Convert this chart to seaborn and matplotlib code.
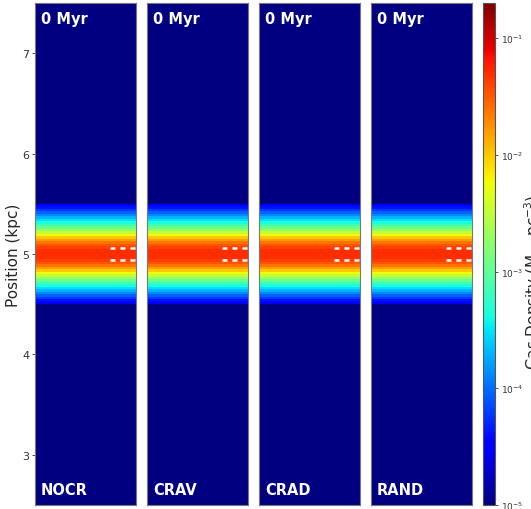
import numpy as np
import pandas as pd
import matplotlib
matplotlib.use("Agg")
import matplotlib.pyplot as plt
from matplotlib.colors import LogNorm
import seaborn as sns

# ---- data ----
models = ["NOCR", "CRAV", "CRAD", "RAND"]
time_label = "0 Myr"
y_min, y_max = 2.5, 7.5          # kpc range shown
dz = 0.025                       # cell size (kpc)
slab_top, slab_bottom = 5.5, 4.5 # extent of the gas slab (kpc)
background_density = 1e-5        # Msun/pc^3 outside slab
# log10 gas density in slab rows, top (5.49 kpc) to bottom (4.51 kpc)
slab_log_density = [
    -4.55, -4.40, -4.22, -4.05, -3.88, -3.70, -3.52, -3.34, -3.15, -2.94,
    -2.72, -2.48, -2.24, -2.00, -1.80, -1.62, -1.48, -1.38, -1.32, -1.30,
    -1.30, -1.32, -1.38, -1.48, -1.62, -1.80, -2.00, -2.24, -2.48, -2.72,
    -2.94, -3.15, -3.34, -3.52, -3.70, -3.88, -4.05, -4.22, -4.40, -4.55,
]
n_columns = 40
y_ticks = [3, 4, 5, 6, 7]
marker_lines = [5.06, 4.94]      # dashed white markers (kpc)
cbar_ticks = [1e-5, 1e-4, 1e-3, 1e-2, 1e-1]
cbar_ticklabels = [r"10$^{-5}$", r"10$^{-4}$", r"10$^{-3}$", r"10$^{-2}$", r"10$^{-1}$"]
vmin, vmax = 1e-5, 0.2

# ---- build grid ----
n_rows = int(round((y_max - y_min) / dz))
row_centers = y_max - (np.arange(n_rows) + 0.5) * dz
profile = np.full(n_rows, background_density)
in_slab = np.where((row_centers < slab_top) & (row_centers > slab_bottom))[0]
profile[in_slab] = 10.0 ** np.array(slab_log_density)
grid = pd.DataFrame(np.tile(profile[:, None], (1, n_columns)),
                    index=np.round(row_centers, 4))

def ypos(v):
    return (y_max - v) / dz

sns.set_style("white")
plt.rcParams["font.family"] = ["DejaVu Sans"]

W, H = 531, 510
fig = plt.figure(figsize=(W / 100, H / 100), dpi=100)
norm = LogNorm(vmin=vmin, vmax=vmax)

lefts = [35, 147, 259, 371]
pw = 101
top_px, bot_px = 4, 506
axes = []
for i, (m, lx) in enumerate(zip(models, lefts)):
    ax = fig.add_axes([lx / W, 1 - bot_px / H, pw / W, (bot_px - top_px) / H])
    sns.heatmap(grid, ax=ax, cmap="jet", norm=norm, cbar=False,
                xticklabels=False, yticklabels=False, rasterized=True)
    for s in ax.spines.values():
        s.set_visible(True)
        s.set_color("#777777")
        s.set_linewidth(0.8)
    ax.set_xticks([])
    if i == 0:
        ax.set_yticks([ypos(v) for v in y_ticks])
        ax.set_yticklabels([str(v) for v in y_ticks], fontsize=8, color="#333333")
        ax.tick_params(axis="y", length=2, width=0.6, pad=2, left=True)
        ax.set_ylabel("Position (kpc)", fontsize=11, labelpad=1)
    else:
        ax.set_yticks([])
        ax.set_ylabel("")
    ax.set_xlabel("")
    for yv in marker_lines:
        ax.plot([n_columns * 0.74, n_columns], [ypos(yv), ypos(yv)], color="white",
                lw=1.8, linestyle=(0, (2.0, 2.0)), solid_capstyle="butt")
    ax.text(0.06, 0.984, time_label, transform=ax.transAxes, color="white",
            fontsize=10.5, fontweight="bold", ha="left", va="top")
    ax.text(0.06, 0.016, m, transform=ax.transAxes, color="white",
            fontsize=10.5, fontweight="bold", ha="left", va="bottom")
    axes.append(ax)

cax = fig.add_axes([483 / W, 1 - bot_px / H, 12 / W, (bot_px - top_px) / H])
cb = fig.colorbar(axes[-1].collections[0], cax=cax)
cb.set_ticks(cbar_ticks)
cb.set_ticklabels(cbar_ticklabels)
cb.minorticks_off()
cax.tick_params(labelsize=6.5, length=2, width=0.6, pad=2, colors="#333333")
cb.outline.set_edgecolor("#555555")
cb.outline.set_linewidth(0.8)
fig.text(523 / W, 1 - 282 / H, r"Gas Density (M$_\odot$ pc$^{-3}$)", rotation=90,
         fontsize=11, ha="left", va="center")

fig.savefig("out.png", dpi=100)
